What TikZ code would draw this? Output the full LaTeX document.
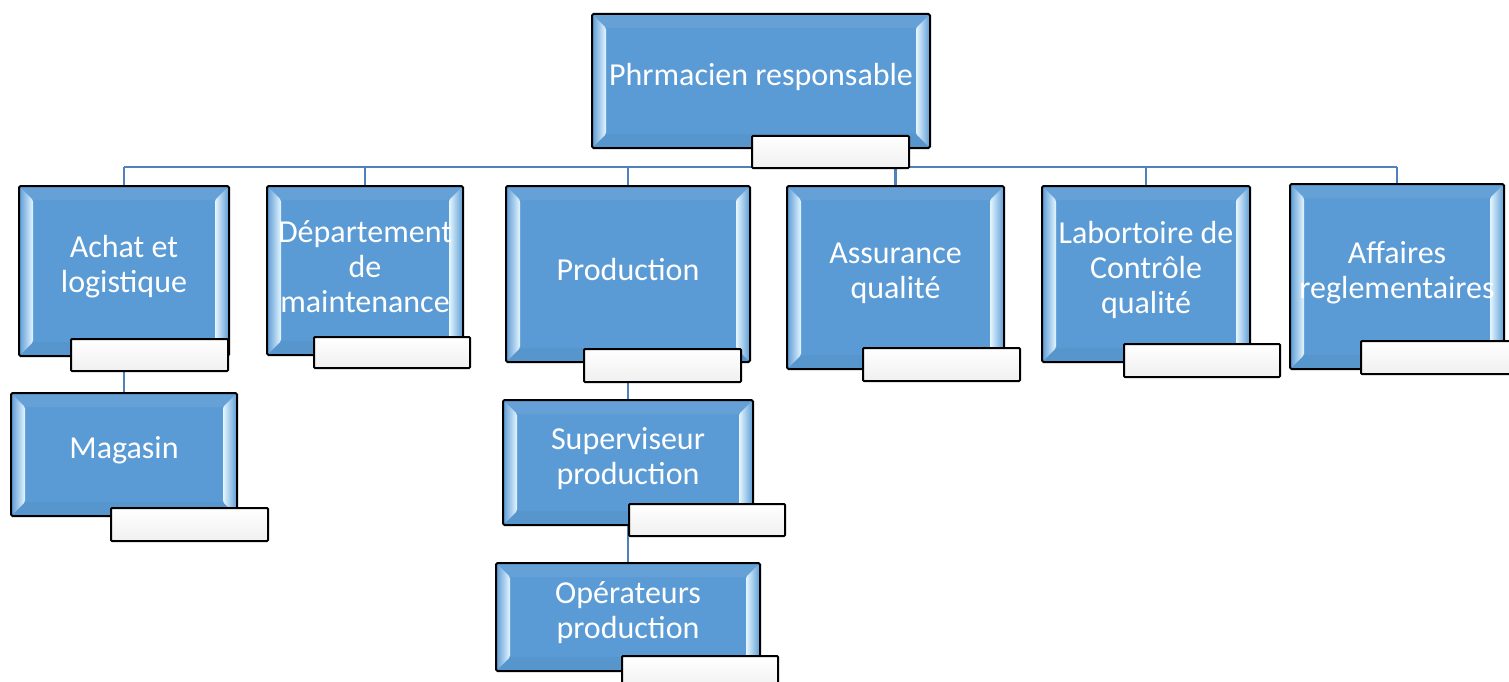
\documentclass[tikz,border=0pt]{standalone}
\usepackage{fontspec}
\setmainfont{Carlito}
\usetikzlibrary{calc}

\definecolor{boxblue}{HTML}{5B9BD5}
\definecolor{bevlight}{HTML}{E6F6FF}
\definecolor{linkblue}{HTML}{4F81BD}

\pgfdeclarelayer{bg}
\pgfdeclarelayer{links}
\pgfsetlayers{bg,links,main}

\tikzset{
  unit/.style={draw=black, line width=2pt, fill=boxblue, rounded corners=1.5pt,
    inner sep=0pt, path picture={
      \path (path picture bounding box.south west) coordinate (pp-sw)
            (path picture bounding box.north east) coordinate (pp-ne);
      % top and bottom bevels
      \fill[boxblue!94!white] (pp-sw|-pp-ne) -- (pp-ne) -- ($(pp-ne)+(-14pt,-14pt)$)
            -- ($(pp-sw|-pp-ne)+(14pt,-14pt)$) -- cycle;
      \fill[boxblue!96!black] (pp-sw) -- (pp-ne|-pp-sw) -- ($(pp-ne|-pp-sw)+(-14pt,14pt)$)
            -- ($(pp-sw)+(14pt,14pt)$) -- cycle;
      % left and right bevels with a bright inner edge
      \shade[left color=boxblue, right color=bevlight] (pp-sw) -- ($(pp-sw)+(14pt,14pt)$)
            -- ($(pp-sw|-pp-ne)+(14pt,-14pt)$) -- (pp-sw|-pp-ne) -- cycle;
      \shade[left color=bevlight, right color=boxblue] (pp-ne) -- ($(pp-ne)+(-14pt,-14pt)$)
            -- ($(pp-ne|-pp-sw)+(-14pt,14pt)$) -- (pp-ne|-pp-sw) -- cycle;
    }},
  tag/.style={draw=black, line width=2pt, top color=white, bottom color=white!94!black,
    rounded corners=1pt, inner sep=0pt},
  caption/.style={text=white, align=center, inner sep=0pt,
    font=\fontsize{32}{35}\selectfont},
  link/.style={draw=linkblue, line width=2.2pt}
}

% unit box: name, x1, y1, x2, y2 (pixel-like units, y downwards)
\newcommand\orgunit[5]{%
  \node[unit, minimum width={(#4-#2)*1pt}, minimum height={(#5-#3)*1pt}]
    (#1) at ({(#2+#4)/2},{(#3+#5)/2}) {};}
% small white tag attached to a unit
\newcommand\orgtag[5]{%
  \node[tag, minimum width={(#4-#2)*1pt}, minimum height={(#5-#3)*1pt}]
    (#1) at ({(#2+#4)/2},{(#3+#5)/2}) {};}
% caption centred slightly above the unit centre
\newcommand\orgtext[3]{%
  \node[caption] (#1) at ($(#2.center)+(0,4pt)$) {#3};}

\begin{document}
\begin{tikzpicture}[x=1pt, y=-1pt]
  \useasboundingbox (0,0) rectangle (1509,682);
  \begin{pgfonlayer}{bg}
    \fill[white] (0,0) rectangle (1509,682);
  \end{pgfonlayer}

  % top level
  \orgunit{root}{592}{14}{930}{148}
  \orgtext{rootT}{root}{Phrmacien responsable}
  \orgtag{rootL}{752}{136}{909}{168}

  % second level
  \orgunit{ach}{19}{186}{229}{356}
  \orgtext{achT}{ach}{Achat et\\logistique}
  \orgtag{achL}{71}{339}{228}{371}

  \orgunit{dep}{267}{186}{463}{355}
  \orgtext{depT}{dep}{Département\\de\\maintenance}
  \orgtag{depL}{314}{337}{470}{368}

  \orgunit{prod}{506}{186}{750}{362}
  \orgtext{prodT}{prod}{Production}
  \orgtag{prodL}{584}{349}{741}{382}

  \orgunit{aq}{787}{186}{1004}{369}
  \orgtext{aqT}{aq}{Assurance\\qualité}
  \orgtag{aqL}{863}{348}{1020}{381}

  \orgunit{lab}{1042}{186}{1250}{362}
  \orgtext{labT}{lab}{Labortoire de\\Contrôle\\qualité}
  \orgtag{labL}{1124}{344}{1280}{377}

  \orgunit{aff}{1290}{184}{1504}{369}
  \orgtext{affT}{aff}{Affaires\\reglementaires}
  \orgtag{affL}{1361}{341}{1518}{374}

  % third level and below
  \orgunit{mag}{11}{393}{237}{516}
  \orgtext{magT}{mag}{Magasin}
  \orgtag{magL}{111}{508}{268}{541}

  \orgunit{sup}{503}{400}{753}{525}
  \orgtext{supT}{sup}{Superviseur\\production}
  \orgtag{supL}{629}{504}{785}{536}

  \orgunit{ope}{496}{563}{760}{671}
  \orgtext{opeT}{ope}{Opérateurs\\production}
  \orgtag{opeL}{622}{656}{778}{690}

  % connectors
  \begin{pgfonlayer}{links}
    \coordinate (bus) at (0,167);
    \draw[link] (root.south) -- (root.south|-bus);
    \draw[link] (ach.north|-bus) -- (aff.north|-bus);
    \foreach \u in {ach,dep,prod,aq,lab,aff}
      \draw[link] (\u.north|-bus) -- (\u.north);
    \draw[link] (ach.south) -- (mag.north);
    \draw[link] (prod.south) -- (sup.north);
    \draw[link] (sup.south) -- (ope.north);
  \end{pgfonlayer}
\end{tikzpicture}
\end{document}
